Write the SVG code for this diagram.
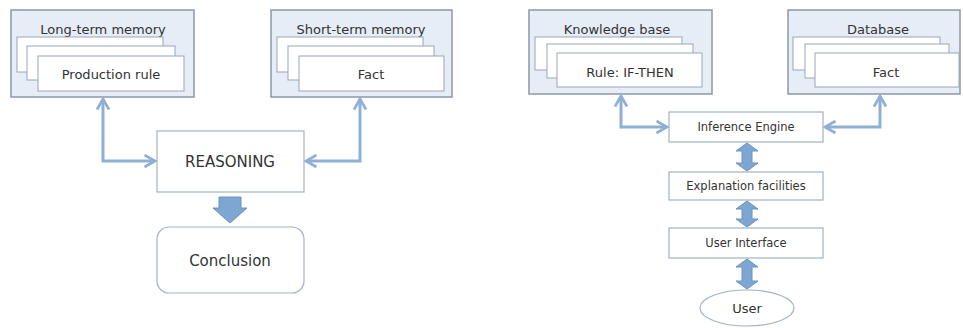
<svg xmlns="http://www.w3.org/2000/svg" width="963" height="328" viewBox="0 0 963 328">
<defs>
<style>
.outer{fill:#e6edf6;stroke:#8c98a8;stroke-width:1.5}
.card{fill:#ffffff;stroke:#98a6b8;stroke-width:1}
.box{fill:#ffffff;stroke:#a3b1c2;stroke-width:1.2}
.conn{fill:none;stroke:#8fb0d6;stroke-width:3}
.blk{fill:#7ea6d2;stroke:#6a92c0;stroke-width:1}
text{font-family:"DejaVu Sans","Liberation Sans",sans-serif;fill:#333;text-anchor:middle;dominant-baseline:central}
.t13{font-size:13px}
.t12{font-size:11.5px}
.big{font-size:15px}
</style>
<marker id="ah" viewBox="0 0 10 10" refX="8" refY="5" markerWidth="5" markerHeight="5" orient="auto-start-reverse" markerUnits="strokeWidth">
<path d="M1,1 L8,5 L1,9" fill="none" stroke="#8fb0d6" stroke-width="1.8"/>
</marker>
</defs>
<rect width="963" height="328" fill="#ffffff"/>
<g id="ltm">
<rect class="outer" x="11" y="10" width="183" height="87"/>
<text class="t13" x="103" y="29">Long-term memory</text>
<rect class="card" x="17" y="37" width="146" height="35"/>
<rect class="card" x="27" y="46" width="148" height="34"/>
<rect class="card" x="38" y="56" width="146" height="35"/>
<text class="t13" x="111" y="74">Production rule</text>
</g>
<g id="stm">
<rect class="outer" x="271" y="10" width="181" height="87"/>
<text class="t13" x="361" y="29">Short-term memory</text>
<rect class="card" x="277" y="37" width="146" height="35"/>
<rect class="card" x="288" y="46" width="146" height="34"/>
<rect class="card" x="299" y="56" width="145" height="35"/>
<text class="t13" x="371" y="74">Fact</text>
</g>
<g id="reasoning">
<rect class="box" x="157" y="131" width="147" height="61"/>
<text class="big" x="230" y="162">REASONING</text>
</g>
<g id="conclusion">
<rect class="box" x="157" y="227" width="147" height="66" rx="12"/>
<text class="big" x="230" y="261">Conclusion</text>
</g>
<g id="kb">
<rect class="outer" x="529" y="10" width="183" height="84"/>
<text class="t13" x="617" y="29">Knowledge base</text>
<rect class="card" x="535" y="37" width="147" height="33"/>
<rect class="card" x="547" y="44" width="146" height="34"/>
<rect class="card" x="557" y="53" width="145" height="34"/>
<text class="t13" x="630" y="72">Rule: IF-THEN</text>
</g>
<g id="db">
<rect class="outer" x="788" y="10" width="172" height="84"/>
<text class="t13" x="878" y="29">Database</text>
<rect class="card" x="793" y="37" width="147" height="33"/>
<rect class="card" x="805" y="44" width="144" height="34"/>
<rect class="card" x="815" y="53" width="144" height="34"/>
<text class="t13" x="886" y="72">Fact</text>
</g>
<g id="inference">
<rect class="box" x="669" y="112" width="154" height="30"/>
<text class="t12" x="746" y="127">Inference Engine</text>
</g>
<g id="explanation">
<rect class="box" x="669" y="172" width="154" height="28"/>
<text class="t12" x="746" y="186">Explanation facilities</text>
</g>
<g id="ui">
<rect class="box" x="669" y="228" width="154" height="30"/>
<text class="t12" x="746" y="243">User Interface</text>
</g>
<g id="user">
<ellipse class="box" cx="747" cy="308" rx="47" ry="18"/>
<text class="t13" x="747" y="308">User</text>
</g>
<g id="connectors">
<path class="conn" d="M103,99 V161 H155" marker-start="url(#ah)" marker-end="url(#ah)"/>
<path class="conn" d="M306,161 H360 V99" marker-start="url(#ah)" marker-end="url(#ah)"/>
<path class="blk" d="M219,197 H241 V208 H247 L230,223 L213,208 H219 Z"/>
<path class="conn" d="M621,96 V127 H667" marker-start="url(#ah)" marker-end="url(#ah)"/>
<path class="conn" d="M825,127 H880 V96" marker-start="url(#ah)" marker-end="url(#ah)"/>
<path class="blk" d="M747,143 L758,151 H752 V163 H758 L747,171 L736,163 H742 V151 H736 Z"/>
<path class="blk" d="M747,201 L758,209 H752 V219 H758 L747,227 L736,219 H742 V209 H736 Z"/>
<path class="blk" d="M747,259 L758,267 H752 V281 H758 L747,289 L736,281 H742 V267 H736 Z"/>
</g>
</svg>
